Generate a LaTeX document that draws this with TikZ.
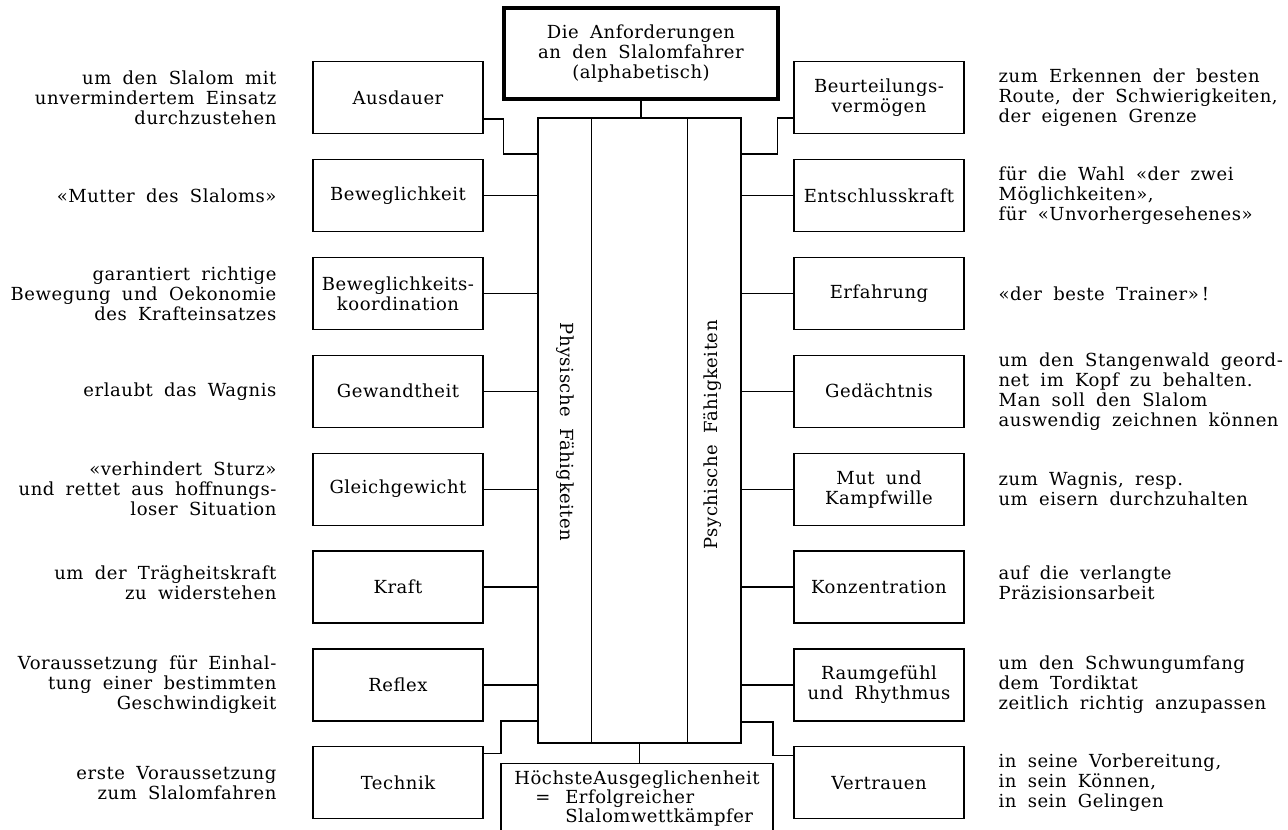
\documentclass[tikz,border=0pt]{standalone}
\usepackage{fontspec}
\setmainfont{DejaVu Serif}[LetterSpace=3, WordSpace=1.8]

\begin{document}
\begin{tikzpicture}[x=5pt, y=-5pt, line width=0.6pt,
  every node/.append style={font=\fontsize{9pt}{10pt}\selectfont},
  feld/.style={draw, minimum width=85pt, minimum height=36pt, align=center, inner sep=2pt},
  links/.style={anchor=east, align=right, inner sep=0pt},
  rechts/.style={anchor=west, align=left, inner sep=0pt}]
\useasboundingbox (0,0) rectangle (128.8,82.9);
\clip (0,0) rectangle (128.8,82.9);

\node[draw, line width=1.6pt, minimum width=137pt, minimum height=45.5pt, align=center] (top) at (64.1,5.35) {Die Anforderungen\\an den Slalomfahrer\\(alphabetisch)};

\node[draw, minimum width=101.5pt, minimum height=312.5pt] (col) at (63.95,43.05) {};
\draw ([xshift=27pt]col.north west) -- ([xshift=27pt]col.south west);
\draw ([xshift=-27pt]col.north east) -- ([xshift=-27pt]col.south east);
\node[rotate=-90] (phy) at (56.5,43.2) {Physische Fähigkeiten};
\node[rotate=90] (psy) at (71.3,43.5) {Psychische Fähigkeiten};

\node[draw, minimum width=136pt, minimum height=35pt, align=left, anchor=north, font=\fontsize{9pt}{9.5pt}\selectfont] (hoe) at (63.7,76.3) {HöchsteAusgeglichenheit\\\hspace*{10.5pt}\makebox[15pt][l]{=}Erfolgreicher\\\hspace*{25.5pt}Slalomwettkämpfer};

\node[feld] (aus) at (39.8,9.75) {Ausdauer};
\node[feld] (bew) at (39.8,19.54) {Beweglichkeit};
\node[feld] (bko) at (39.8,29.33) {Beweglichkeits-\\koordination};
\node[feld] (gew) at (39.8,39.12) {Gewandtheit};
\node[feld] (glg) at (39.8,48.91) {Gleichgewicht};
\node[feld] (kra) at (39.8,58.70) {Kraft};
\node[feld] (ref) at (39.8,68.49) {Reflex};
\node[feld] (tec) at (39.8,78.28) {Technik};

\node[feld] (beu) at (87.9,9.75) {Beurteilungs-\\vermögen};
\node[feld] (ent) at (87.9,19.54) {Entschlusskraft};
\node[feld] (erf) at (87.9,29.33) {Erfahrung};
\node[feld] (ged) at (87.9,39.12) {Gedächtnis};
\node[feld] (mut) at (87.9,48.91) {Mut und\\Kampfwille};
\node[feld] (kon) at (87.9,58.70) {Konzentration};
\node[feld] (rau) at (87.9,68.49) {Raumgefühl\\und Rhythmus};
\node[feld] (ver) at (87.9,78.28) {Vertrauen};

\node[links] (taus) at (27.7,9.75) {um den Slalom mit\\unvermindertem Einsatz\\durchzustehen};
\node[links] (tbew) at (27.7,19.54) {«Mutter des Slaloms»};
\node[links] (tbko) at (27.7,29.33) {garantiert richtige\\Bewegung und Oekonomie\\des Krafteinsatzes};
\node[links] (tgew) at (27.7,39.12) {erlaubt das Wagnis};
\node[links] (tglg) at (27.7,48.91) {«verhindert Sturz»\\und rettet aus hoffnungs-\\loser Situation};
\node[links] (tkra) at (27.7,58.3) {um der Trägheitskraft\\zu widerstehen};
\node[links] (tref) at (27.7,68.49) {Voraussetzung für Einhal-\\tung einer bestimmten\\Geschwindigkeit};
\node[links] (ttec) at (27.7,78.28) {erste Voraussetzung\\zum Slalomfahren};

\node[rechts] (tbeu) at (99.8,9.75) {zum Erkennen der besten\\Route, der Schwierigkeiten,\\der eigenen Grenze};
\node[rechts] (tent) at (99.8,19.54) {für die Wahl «der zwei\\Möglichkeiten»,\\für «Unvorhergesehenes»};
\node[rechts] (terf) at (99.8,29.33) {«der beste Trainer»\,!};
\node[rechts] (tged) at (99.8,39.12) {um den Stangenwald geord-\\net im Kopf zu behalten.\\Man soll den Slalom\\auswendig zeichnen können};
\node[rechts] (tmut) at (99.8,48.91) {zum Wagnis, resp.\\um eisern durchzuhalten};
\node[rechts] (tkon) at (99.8,58.3) {auf die verlangte\\Präzisionsarbeit};
\node[rechts] (trau) at (99.8,68.49) {um den Schwungumfang\\dem Tordiktat\\zeitlich richtig anzupassen};
\node[rechts] (tver) at (99.8,78.28) {in seine Vorbereitung,\\in sein Können,\\in sein Gelingen};

\coordinate (jtl) at (50.35,15.4);
\coordinate (jtr) at (77.75,15.4);
\coordinate (jbl) at (50.1,72.1);
\coordinate (jbr) at (77.3,72.2);

\draw (top.south) -- (top.south |- col.north);
\draw (col.south) -- (col.south |- hoe.north);
\draw ([yshift=-10.75pt]aus.east) -| (jtl) -- (jtl -| col.west);
\draw ([yshift=-10.25pt]beu.west) -| (jtr) -- (jtr -| col.east);
\draw ([yshift=14.5pt]tec.east) -| (jbl) -- (jbl -| col.west);
\draw ([yshift=13.5pt]ver.west) -| (jbr) -- (jbr -| col.east);
\draw (bew.east) -- (bew.east -| col.west);
\draw (bko.east) -- (bko.east -| col.west);
\draw (gew.east) -- (gew.east -| col.west);
\draw (glg.east) -- (glg.east -| col.west);
\draw (kra.east) -- (kra.east -| col.west);
\draw (ref.east) -- (ref.east -| col.west);
\draw (ent.west) -- (ent.west -| col.east);
\draw (erf.west) -- (erf.west -| col.east);
\draw (ged.west) -- (ged.west -| col.east);
\draw (mut.west) -- (mut.west -| col.east);
\draw (kon.west) -- (kon.west -| col.east);
\draw (rau.west) -- (rau.west -| col.east);

\end{tikzpicture}
\end{document}
